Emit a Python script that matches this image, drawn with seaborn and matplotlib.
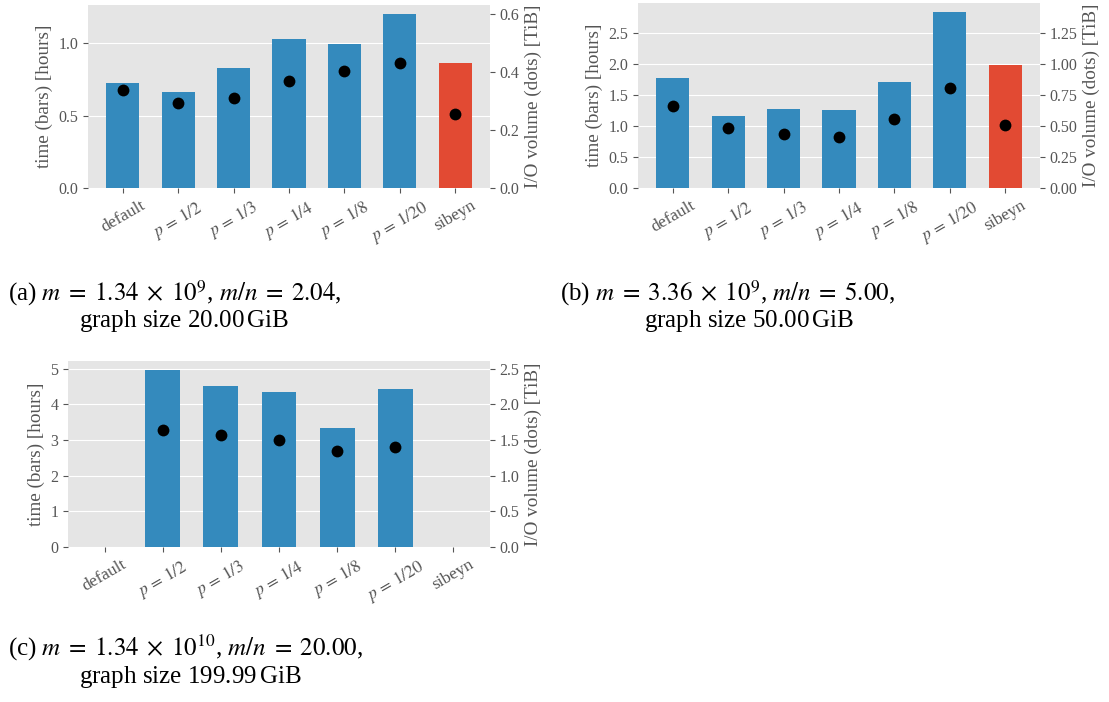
import matplotlib
matplotlib.use('Agg')
import matplotlib.pyplot as plt
import numpy as np
import pandas as pd
import seaborn as sns
from matplotlib.ticker import MultipleLocator, FormatStrFormatter

# categories shared by all three panels
labels = ['default', '$p\\,=\\,1/2$', '$p\\,=\\,1/3$', '$p\\,=\\,1/4$',
          '$p\\,=\\,1/8$', '$p\\,=\\,1/20$', 'sibeyn']

# (a) m = 1.34e9
time_a = [0.726, 0.664, 0.830, 1.030, 0.995, 1.203, 0.864]
io_a = [0.337, 0.295, 0.312, 0.368, 0.404, 0.433, 0.255]

# (b) m = 3.36e9
time_b = [1.768, 1.159, 1.271, 1.255, 1.704, 2.842, 1.977]
io_b = [0.662, 0.486, 0.435, 0.414, 0.553, 0.804, 0.510]

# (c) m = 1.34e10, default and sibeyn did not finish
time_c = [np.nan, 4.963, 4.516, 4.348, 3.343, 4.432, np.nan]
io_c = [np.nan, 1.634, 1.574, 1.504, 1.345, 1.406, np.nan]

captions = [
    ('(a) $m\\;=\\;1.34\\;\\times\\;10^{9}$, $m/n\\;=\\;2.04$,', 'graph size 20.00$\\,$GiB'),
    ('(b) $m\\;=\\;3.36\\;\\times\\;10^{9}$, $m/n\\;=\\;5.00$,', 'graph size 50.00$\\,$GiB'),
    ('(c) $m\\;=\\;1.34\\;\\times\\;10^{10}$, $m/n\\;=\\;20.00$,', 'graph size 199.99$\\,$GiB'),
]

plt.style.use('ggplot')
plt.rcParams['font.family'] = ['Liberation Serif', 'DejaVu Serif']
plt.rcParams['mathtext.fontset'] = 'stix'
plt.rcParams['font.size'] = 11.5

BLUE = '#348ABD'
RED = '#E24A33'
palette = {l: BLUE for l in labels}
palette['sibeyn'] = RED

W, H = 1109, 702
fig = plt.figure(figsize=(W / 100, H / 100), dpi=100)


def px_axes(left, top, right, bottom):
    return fig.add_axes([left / W, 1 - bottom / H, (right - left) / W, (bottom - top) / H])


def draw_panel(ax, times, ios, step_l, step_r):
    df = pd.DataFrame({'label': labels, 'time': times, 'io': ios})
    sns.barplot(data=df, x='label', y='time', hue='label', palette=palette,
                order=labels, hue_order=labels, width=0.6, legend=False,
                saturation=1, ax=ax)
    ax2 = ax.twinx()
    sns.stripplot(data=df, x='label', y='io', order=labels, jitter=False,
                  color='black', size=8.5, ax=ax2)
    top = np.nanmax(times) * 1.05
    ax.set_ylim(0, top)
    ax2.set_ylim(0, top / 2)
    ax.set_xlim(-0.63, 6.63)
    ax.yaxis.set_major_locator(MultipleLocator(step_l))
    ax2.yaxis.set_major_locator(MultipleLocator(step_r))
    ax.grid(axis='x', visible=False)
    ax2.grid(False)
    ax.set_xlabel('')
    ax.set_ylabel('time (bars) [hours]')
    ax2.set_ylabel('I/O volume (dots) [TiB]')
    for a in (ax, ax2):
        a.tick_params(colors='#555555', labelsize=11.5)
        for s in a.spines.values():
            s.set_visible(False)
    ax.tick_params(axis='x', labelrotation=30, labelsize=12.5)
    for t in ax.get_xticklabels():
        t.set_ha('center')


ax_a = px_axes(88, 5, 490, 188)
draw_panel(ax_a, time_a, io_a, 0.5, 0.2)
ax_b = px_axes(638, 3, 1040, 188)
draw_panel(ax_b, time_b, io_b, 0.5, 0.25)
ax_c = px_axes(68, 361, 490, 547)
draw_panel(ax_c, time_c, io_c, 1, 0.5)
ax_c.yaxis.set_major_formatter(FormatStrFormatter('%d'))

cap_pos = [(8, 79, 300), (560, 644, 300), (8, 79, 656)]
for (l1, l2), (x1, x2, y) in zip(captions, cap_pos):
    fig.text(x1 / W, 1 - y / H, l1, fontsize=18, color='black', va='baseline')
    fig.text(x2 / W, 1 - (y + 27) / H, l2, fontsize=18, color='black', va='baseline')

fig.savefig('out.png', dpi=100)
